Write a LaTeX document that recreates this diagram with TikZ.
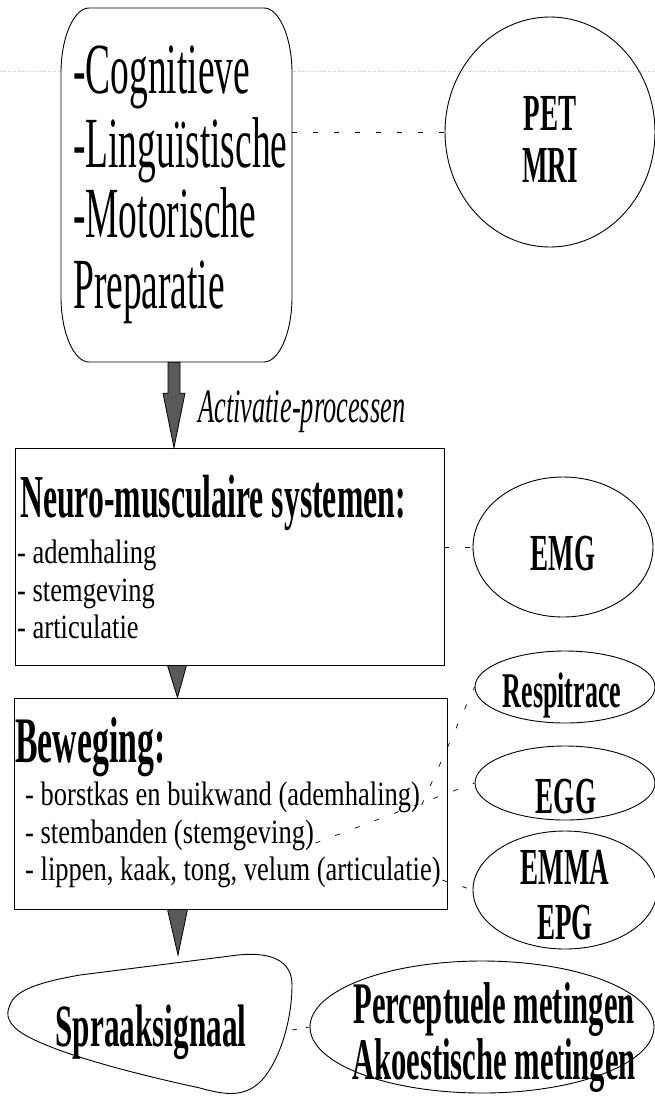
\documentclass[tikz,border=0pt]{standalone}
\usepackage{fontspec}
\setmainfont{Liberation Serif}
\newfontfamily\condreg[FakeStretch=0.52]{Liberation Serif}
\newfontfamily\condlist[FakeStretch=0.78]{Liberation Serif}
\newfontfamily\condit[FakeStretch=0.55]{Liberation Serif}
\usetikzlibrary{shapes.geometric,calc}
\tikzset{
  outline/.style={draw=black, line width=0.9pt},
  boxnode/.style={outline, rectangle, inner sep=0pt},
  shapenode/.style={draw=none, rectangle, inner sep=0pt},
  ellnode/.style={outline, ellipse, inner sep=0pt},
  bigtxt/.style={font=\condreg\fontsize{72}{72}\selectfont, anchor=base west, inner sep=0pt},
  titletxt/.style={font=\condreg\bfseries\fontsize{#1}{#1}\selectfont, anchor=base west, inner sep=0pt},
  labtxt/.style={font=\condreg\bfseries\fontsize{#1}{#1}\selectfont, anchor=base, inner sep=0pt},
  listtxt/.style={font=\condlist\fontsize{34}{34}\selectfont, anchor=base west, inner sep=1.5pt},
  ittxt/.style={font=\condit\itshape\fontsize{48}{48}\selectfont, anchor=base west, inner sep=0pt},
  measure/.style={dash pattern=on 5pt off 16pt, line width=0.7pt},
  blockarrow/.style={fill=black!65, draw=black, line width=0.8pt},
  scanline/.style={gray!45, dotted, line width=0.5pt}
}
\begin{document}
\begin{tikzpicture}[x=1pt,y=-1pt]
\useasboundingbox (0,0) rectangle (654,1096);
\fill[white] (0,0) rectangle (654,1096);
\draw[scanline] (0,71) -- (654,71);

% ---------- top box ----------
\node[shapenode, minimum width=231pt, minimum height=354pt] (prep) at (176.5,185) {};
\filldraw[outline, fill=white] (61,73) -- (61,297)
  .. controls (61,333) and (74,362) .. (89,362) -- (264,362)
  .. controls (279,362) and (292,333) .. (292,297) -- (292,73)
  .. controls (292,37) and (279,8) .. (264,8) -- (89,8)
  .. controls (74,8) and (61,37) .. (61,73) -- cycle;
\node[bigtxt] (cog) at (73,93) {-Cognitieve};
\node[bigtxt] (ling) at (73,167) {-Linguïstische};
\node[bigtxt] (mot) at (73,237) {-Motorische};
\node[bigtxt] (prepa) at (73,308) {Preparatie};

% ---------- PET / MRI ----------
\node[ellnode, minimum width=210pt, minimum height=230pt] (pet) at (550,132) {};
\node[labtxt=52] (pettxt) at (550,130) {PET};
\node[labtxt=52] (mritxt) at (550,182) {MRI};
\draw[measure] (prep.east |- pet.west) -- (pet.west);

% ---------- Neuro box ----------
\node[boxnode, minimum width=429pt, minimum height=217pt] (neuro) at (229.5,556.5) {};
\node[titletxt=61] (neurotitle) at (20,517) {Neuro-musculaire systemen:};
\node[listtxt] (n1) at (15.5,563) {- ademhaling};
\node[listtxt] (n2) at (15.5,601) {- stemgeving};
\node[listtxt] (n3) at (15.5,638) {- articulatie};

% arrow 1
\filldraw[blockarrow] ($(prep.south)+(-8.5,0)$) -- ($(prep.south)+(3.5,0)$)
  -- ($(prep.south)+(3.5,31)$) -- ($(prep.south)+(8.5,31)$)
  -- ($(prep.south |- neuro.north)+(-2.5,0)$)
  -- ($(prep.south)+(-13.5,31)$) -- ($(prep.south)+(-8.5,31)$) -- cycle;
\node[ittxt] (activ) at (198,422) {Activatie-processen};

% ---------- EMG ----------
\node[ellnode, minimum width=180pt, minimum height=140pt] (emg) at (563,547) {};
\node[labtxt=52] (emgtxt) at (563,570) {EMG};
\draw[measure] (neuro.east |- emg.west) -- (emg.west);

% ---------- Beweging box ----------
\node[boxnode, minimum width=433pt, minimum height=211pt] (bew) at (230.5,803.5) {};
\node[titletxt=65] (bewtitle) at (15,762) {Beweging:};
\node[listtxt] (b1) at (23.5,805) {- borstkas en buikwand (ademhaling)};
\node[listtxt] (b2) at (23.5,843) {- stembanden (stemgeving)};
\node[listtxt] (b3) at (23.5,880) {- lippen, kaak, tong, velum (articulatie)};

% arrow 2
\filldraw[blockarrow] ($(prep.south |- neuro.south)+(-9,0)$) -- ($(prep.south |- neuro.south)+(10,0)$)
  -- ($(prep.south |- bew.north)+(1,0)$) -- cycle;

% ---------- right measurement ellipses ----------
\node[ellnode, minimum width=180pt, minimum height=72pt] (resp) at (565,687) {};
\node[labtxt=50] (resptxt) at (562,707) {Respitrace};
\node[ellnode, minimum width=180pt, minimum height=74pt] (egg) at (565,783) {};
\node[labtxt=52] (eggtxt) at (566,813) {EGG};
\node[ellnode, minimum width=184pt, minimum height=118pt] (emma) at (565,890) {};
\node[labtxt=52] (emmatxt) at (565,884) {EMMA};
\node[labtxt=52] (epgtxt) at (565,939) {EPG};

\draw[measure] (b1.base east) -- (resp.west);
\draw[measure] (b2.base east) -- (egg.west);
\draw[measure] (b3.base east) -- (emma.west);

% ---------- Spraaksignaal ----------
\coordinate (spraaktop) at (178,955);
\coordinate (spraakR) at (292,1030);
\filldraw[outline, fill=white] (10,1005) .. controls (15,990) and (40,982) .. (80,975)
  -- (230,956) .. controls (270,950) and (292,960) .. (292,985)
  .. controls (292,1020) and (280,1060) .. (262,1080)
  .. controls (245,1098) and (225,1095) .. (200,1088)
  .. controls (140,1075) and (60,1055) .. (25,1035)
  .. controls (8,1025) and (5,1015) .. (10,1005) -- cycle;
\node[labtxt=60] (spraak) at (151,1046) {Spraaksignaal};

% arrow 3
\filldraw[blockarrow] ($(prep.south |- bew.south)+(-9,0)$) -- ($(prep.south |- bew.south)+(11,0)$)
  -- (spraaktop) -- cycle;

% ---------- Perceptuele / Akoestische ----------
\node[ellnode, minimum width=344pt, minimum height=132pt] (perc) at (482,1027) {};
\node[labtxt=59] (perctxt) at (494,1023) {Perceptuele metingen};
\node[labtxt=59] (akotxt) at (494,1079) {Akoestische metingen};
\draw[measure, dash pattern=on 5pt off 9pt] (spraakR) -- (perc.west);
\end{tikzpicture}
\end{document}
